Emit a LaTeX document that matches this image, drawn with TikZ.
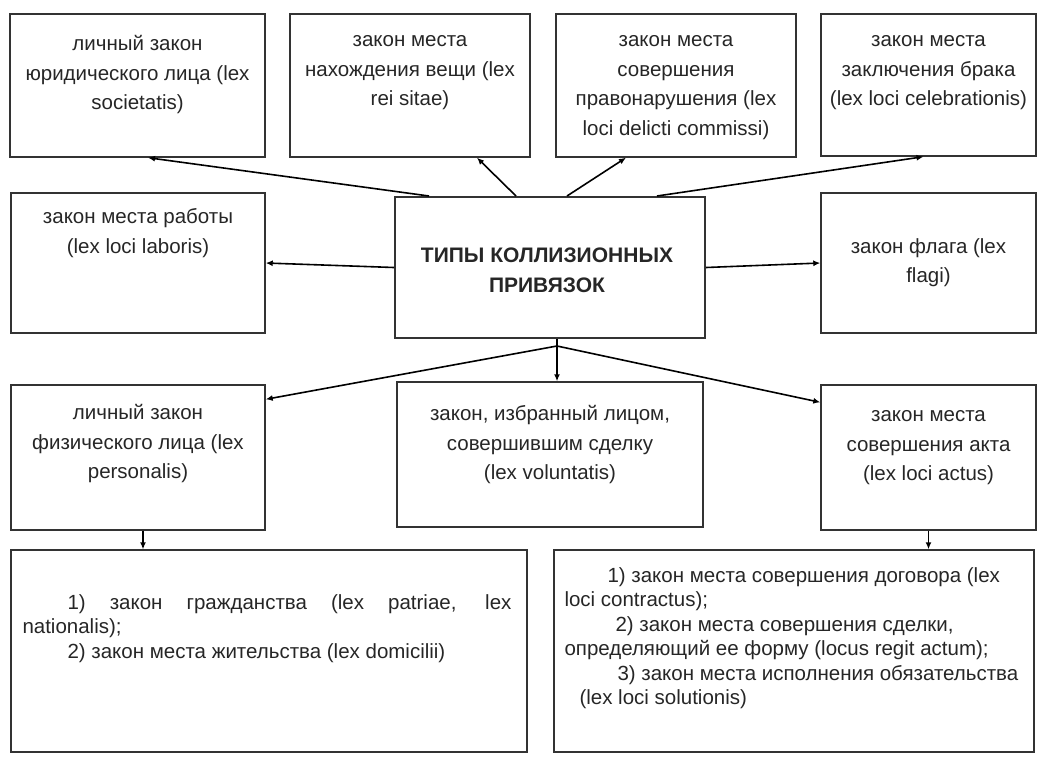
\documentclass[tikz,border=0pt]{standalone}
\usepackage{fontspec}
\setmainfont{Liberation Sans}
\usetikzlibrary{arrows.meta}
\tikzset{
  box/.style={draw=black!80,line width=1.4pt,inner sep=0pt},
  txt/.style={anchor=north,align=center,inner sep=0pt,text=black!85,
    font=\fontsize{20.5}{29.5}\selectfont},
  longtxt/.style={anchor=north west,inner sep=0pt,text=black!85,
    font=\fontsize{20.5}{24.5}\selectfont},
  link/.style={line width=1.6pt,-{Latex[length=7pt,width=6pt]}}
}
\begin{document}
\begin{tikzpicture}[x=1pt,y=-1pt]
\useasboundingbox (0,0) rectangle (1038,756);
% top row
\node[box,minimum width=255pt,minimum height=143pt] (soc) at (137.5,85.5) {};
\node[box,minimum width=240pt,minimum height=143pt] (rei) at (410,85.5) {};
\node[box,minimum width=240pt,minimum height=143pt] (del) at (676,85.5) {};
\node[box,minimum width=215pt,minimum height=142pt] (cel) at (928.5,85) {};
\node[txt] (socT) at ([yshift=-22pt]soc.north) {личный закон\\юридического лица (lex\\societatis)};
\node[txt] (reiT) at ([yshift=-22pt]rei.north) {закон места\\нахождения вещи (lex\\rei sitae)};
\node[txt] (delT) at ([yshift=-22pt]del.north) {закон места\\совершения\\правонарушения (lex\\loci delicti commissi)};
\node[txt] (celT) at ([yshift=-22pt]cel.north) {закон места\\заключения брака\\(lex loci celebrationis)};
% middle row
\node[box,minimum width=254pt,minimum height=140pt] (lab) at (138,263) {};
\node[box,line width=2pt,minimum width=310pt,minimum height=141pt] (main) at (550,267.5) {};
\node[txt,anchor=center,font=\fontsize{21}{30}\selectfont\bfseries] (mainT)
  at ([xshift=-3pt,yshift=-3pt]main.center) {ТИПЫ КОЛЛИЗИОННЫХ\\ПРИВЯЗОК};
\node[box,minimum width=215pt,minimum height=140pt] (flag) at (928.5,263) {};
\node[txt] (labT) at ([yshift=-16pt]lab.north) {закон места работы\\(lex loci laboris)};
\node[txt] (flagT) at ([yshift=-46pt]flag.north) {закон флага (lex\\flagi)};
% third row
\node[box,minimum width=254pt,minimum height=145pt] (pers) at (138,457.5) {};
\node[box,minimum width=306pt,minimum height=145pt] (vol) at (550,454.5) {};
\node[box,minimum width=215pt,minimum height=145pt] (act) at (928.5,457.5) {};
\node[txt] (persT) at ([yshift=-20pt]pers.north) {личный закон\\физического лица (lex\\personalis)};
\node[txt] (volT) at ([yshift=-24pt]vol.north) {закон, избранный лицом,\\совершившим сделку\\(lex voluntatis)};
\node[txt] (actT) at ([yshift=-26pt]act.north) {закон места\\совершения акта\\(lex loci actus)};
% bottom row
\node[box,minimum width=516pt,minimum height=202pt] (pat) at (269,651) {};
\node[box,minimum width=480pt,minimum height=202pt] (con) at (794,651) {};
\node[longtxt,text width=489pt,align=justify] (patT) at ([xshift=12pt,yshift=-45pt]pat.north west)
  {\hspace*{45pt}1) закон гражданства (lex patriae, lex\linebreak nationalis);\\
   \hspace*{45pt}2) закон места жительства (lex domicilii)};
\node[longtxt,align=left] (conT) at ([xshift=11pt,yshift=-18pt]con.north west)
  {\hspace*{43pt}1) закон места совершения договора (lex\\
   loci contractus);\\
   \hspace*{51pt}2) закон места совершения сделки,\\
   определяющий ее форму (locus regit actum);\\
   \hspace*{53pt}3) закон места исполнения обязательства\\
   \hspace*{15pt}(lex loci solutionis)};
% connectors
\draw[link] ([xshift=35pt]main.north west) -- ([xshift=10.5pt]soc.south);
\draw[link] ([xshift=122pt]main.north west) -- ([xshift=67pt]rei.south);
\draw[link] ([xshift=173pt]main.north west) -- ([xshift=-50pt]del.south);
\draw[link] ([xshift=263pt]main.north west) -- ([xshift=-5pt]cel.south);
\draw[link] (main.west) -- (lab.east);
\draw[link] (main.east) -- (flag.east-|flag.west);
\coordinate (fork) at ([xshift=7pt,yshift=-7pt]main.south);
\draw[line width=1.6pt] ([xshift=7pt]main.south) -- (fork);
\draw[link] (fork) -- ([xshift=7pt]vol.north);
\draw[link] (fork) -- ([yshift=-15pt]pers.north east);
\draw[link] (fork) -- ([yshift=-18pt]act.north west);
\draw[link] ([xshift=5pt]pers.south) -- ([xshift=5pt]pers.south|-pat.north);
\draw[link] (act.south) -- (act.south|-con.north);
\end{tikzpicture}
\end{document}
